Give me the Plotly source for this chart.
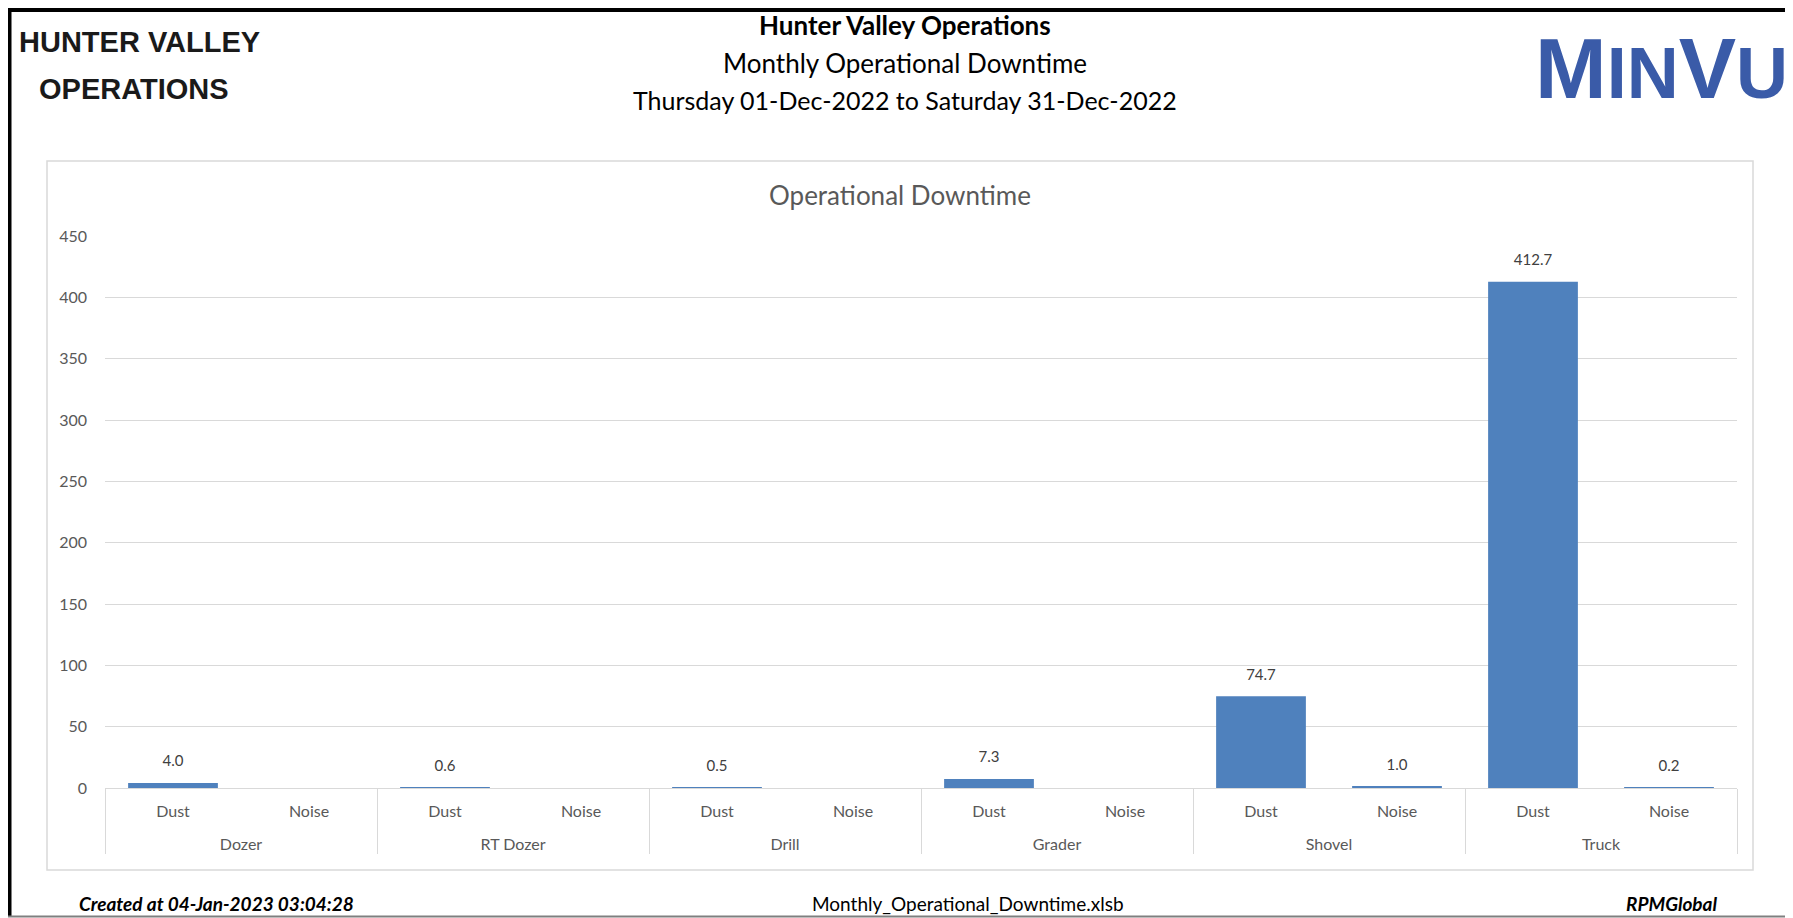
import plotly.graph_objects as go

# chart data
equipment = ["Dozer", "RT Dozer", "Drill", "Grader", "Shovel", "Truck"]
reasons = ["Dust", "Noise"]
dust_hours = [4.0, 0.6, 0.5, 7.3, 74.7, 412.7]
noise_hours = [None, None, None, None, 1.0, 0.2]
y_ticks = [0, 50, 100, 150, 200, 250, 300, 350, 400, 450]

W, H = 1793, 918
OFF = 8  # page body margin, the figure starts 8px in
BAR_BLUE = "#4F81BD"
GRID = "#D9D9D9"
TXT = "#595959"
FONT = "Lato, Carlito, Calibri, 'Open Sans', sans-serif"
LOGO = "'Liberation Sans Narrow', 'Liberation Sans', Arial, sans-serif"

# multicategory x: outer = equipment, inner = Dust/Noise
# outer label gets a leading blank line so it sits lower, like Excel
outer, inner, vals = [], [], []
for i, eq in enumerate(equipment):
    outer += ["<br>" + eq] * 2
    inner += reasons
    vals += [dust_hours[i], noise_hours[i]]


def px_x(v):
    return (v - OFF) / W


def px_y(v):
    return 1 - (v - OFF) / H


fig = go.Figure()

fig.add_trace(go.Bar(
    x=[outer, inner], y=vals,
    marker=dict(color=BAR_BLUE, line=dict(width=0)),
    hoverinfo="skip",
))

# data labels a bit above each bar (invisible marker gives the offset)
fig.add_trace(go.Scatter(
    x=[outer, inner], y=vals,
    mode="markers+text",
    marker=dict(size=19, opacity=0),
    text=[("%.1f" % v) if v is not None else "" for v in vals],
    textposition="top center",
    textfont=dict(family=FONT, size=15, color="#404040"),
    hoverinfo="skip",
))

fig.update_layout(
    width=W, height=H,
    margin=dict(l=0, r=0, t=0, b=0),
    paper_bgcolor="white", plot_bgcolor="white",
    showlegend=False,
    bargap=0.34,
    font=dict(family=FONT, color=TXT),
    xaxis=dict(
        domain=[px_x(105), px_x(1737)],
        type="multicategory",
        range=[-0.5, len(vals) - 0.5],
        showgrid=False, zeroline=False,
        showline=True, linecolor=GRID, linewidth=1,
        ticks="",
        ticklabelstandoff=9,
        showdividers=True, dividercolor=GRID, dividerwidth=1,
        tickfont=dict(family=FONT, size=16, color=TXT),
        automargin=False,
    ),
    yaxis=dict(
        domain=[px_y(788), px_y(236)],
        range=[0, 450],
        tickvals=y_ticks,
        showgrid=True, gridcolor=GRID, gridwidth=1,
        zeroline=True, zerolinecolor=GRID, zerolinewidth=1,
        showline=False, ticks="",
        ticklabelstandoff=17,
        tickfont=dict(family=FONT, size=16, color=TXT),
        automargin=False,
    ),
)

# page frame (top edge sits at the very top of the figure) and chart box
fig.add_shape(type="line", xref="paper", yref="paper",
              x0=0, x1=1.01, y0=px_y(OFF + 2), y1=px_y(OFF + 2),
              line=dict(color="black", width=4))
fig.add_shape(type="line", xref="paper", yref="paper",
              x0=px_x(9.5), x1=px_x(9.5), y0=1.01, y1=px_y(917),
              line=dict(color="black", width=4))
fig.add_shape(type="line", xref="paper", yref="paper",
              x0=px_x(7), x1=1.01, y0=px_y(916.5), y1=px_y(916.5),
              line=dict(color="#7F7F7F", width=2))
fig.add_shape(type="rect", xref="paper", yref="paper",
              x0=px_x(47), x1=px_x(1753), y0=px_y(870), y1=px_y(161),
              line=dict(color=GRID, width=1.5), layer="below")

# header text
fig.add_annotation(text="<b>Hunter Valley Operations</b>", x=px_x(905), y=px_y(25),
                   font=dict(family=FONT, size=26, color="black"))
fig.add_annotation(text="Monthly Operational Downtime", x=px_x(905), y=px_y(63),
                   font=dict(family=FONT, size=26, color="black"))
fig.add_annotation(text="Thursday 01-Dec-2022 to Saturday 31-Dec-2022", x=px_x(905), y=px_y(100),
                   font=dict(family=FONT, size=25, color="black"))

# logos
fig.add_annotation(text="<b>HUNTER VALLEY</b>", x=px_x(139), y=px_y(42),
                   font=dict(family=LOGO, size=29, color="#1A1A1A"))
fig.add_annotation(text="<b>OPERATIONS</b>", x=px_x(134), y=px_y(89),
                   font=dict(family=LOGO, size=29, color="#1A1A1A"))
fig.add_annotation(
    text="<b>M<span style='font-size:72px'>IN</span>V<span style='font-size:72px'>U</span></b>",
    x=px_x(1790), y=px_y(68), xanchor="right",
    font=dict(family=LOGO, size=86, color="#3A5BA8"))

# chart title
fig.add_annotation(text="Operational Downtime", x=px_x(900), y=px_y(195),
                   font=dict(family=FONT, size=26, color=TXT))

# footer
fig.add_annotation(text="<b><i>Created at 04-Jan-2023 03:04:28</i></b>", x=px_x(77), y=px_y(903),
                   xanchor="left", font=dict(family=FONT, size=19, color="black"))
fig.add_annotation(text="Monthly_Operational_Downtime.xlsb", x=px_x(968), y=px_y(903),
                   font=dict(family=FONT, size=19, color="black"))
fig.add_annotation(text="<b><i>RPMGlobal</i></b>", x=px_x(1719), y=px_y(903),
                   xanchor="right", font=dict(family=FONT, size=19, color="black"))

for a in fig.layout.annotations:
    a.update(xref="paper", yref="paper", showarrow=False, yanchor="middle")
    if a.xanchor is None:
        a.xanchor = "center"

fig.write_html("out.html")
